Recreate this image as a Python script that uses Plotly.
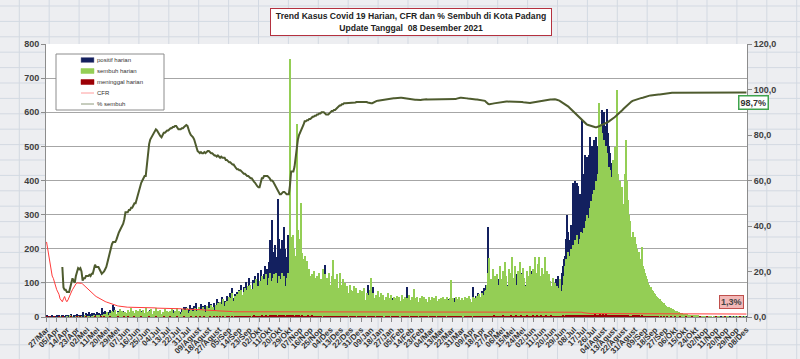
import pandas as pd
import plotly.graph_objects as go

# ---------------- data ----------------
dates = pd.date_range("2020-03-27", "2021-12-08", freq="D")

tick_labels = ["27/Mar","05/Apr","14/Apr","23/Apr","02/Mei","11/Mei","20/Mei","29/Mei","07/Jun","16/Jun",
               "25/Jun","04/Jul","13/Jul","22/Jul","31/Jul","09/Agust","18/Agust","27/Agust","05/Sep","14/Sep",
               "23/Sep","02/Okt","11/Okt","20/Okt","29/Okt","07/Nop","16/Nop","25/Nop","04/Des","13/Des",
               "22/Des","31/Des","09/Jan","18/Jan","27/Jan","05/Feb","14/Feb","23/Feb","04/Mar","13/Mar",
               "22/Mar","31/Mar","09/Apr","18/Apr","27/Apr","06/Mei","15/Mei","24/Mei","02/Jun","11/Jun",
               "20/Jun","29/Jun","08/Jul","17/Jul","26/Jul","04/Agust","13/Agust","22/Agust","31/Agust","09/Sep",
               "18/Sep","27/Sep","06/Okt","15/Okt","24/Okt","02/Nop","11/Nop","20/Nop","29/Nop","08/Des"]

positif_harian = [
    3,0,2,1,0,4,2,0,1,3, 2,5,1,0,6,3,2,4,1,7, 5,3,8,2,4,6,3,10,5,2, 7,4,15,6,3,12,9,5,14,8,
    11,6,13,4,9,16,7,12,10,26, 14,9,18,12,6,15,20,11,8,35, 30,13,9,17,6,11,14,5,19,8, 10,4,12,7,15,9,3,11,6,13,
    8,14,5,10,18,7,12,4,9,16, 6,11,20,15,8,13,5,10,17,7, 12,9,4,14,8,19,11,6,15,10, 7,13,21,9,16,5,12,18,8,14,
    24,11,30,17,28,13,22,35,19,26, 15,32,21,41,18,29,25,38,22,33, 27,35,20,31,44,26,37,30,24,40, 33,52,28,45,36,41,58,34,47,39,
    62,44,55,70,48,85,57,66,52,74, 61,80,69,95,58,88,72,104,83,66, 114,90,78,108,97,120,85,101,130,93, 138,110,96,125,150,118,140,160,225,170,
    284,190,150,210,175,345,230,200,180,225, 160,265,200,175,240,150,265,210,130,180, 150,120,170,110,140,95,130,105,85,120, 90,75,110,80,95,70,100,85,65,108,
    90,75,60,95,70,115,80,152,100,65, 85,70,95,60,80,55,75,65,50,70, 60,45,75,55,40,65,50,45,60,40, 55,50,35,62,45,40,58,35,50,42,
    48,38,55,45,60,94,50,40,35,45, 89,40,50,35,45,30,55,40,35,50, 40,30,45,35,50,28,40,55,35,30, 45,38,30,52,40,35,48,30,42,36,
    88,35,45,30,50,40,35,55,38,45, 30,48,35,42,55,38,30,45,40,35, 50,42,36,55,40,32,48,38,45,52, 36,42,30,48,40,35,52,38,45,60,
    42,35,55,40,48,38,45,32,50,40, 44,38,55,42,48,36,52,45,89,40, 50,62,45,70,55,48,75,60,85,70, 95,80,265,110,90,75,105,85,120,95,
    80,110,130,90,75,100,85,115,70,95, 90,120,85,140,4,95,95,125,110,90, 147,130,105,80,115,95,70,100,85,120, 95,135,110,90,125,100,80,140,105,90,
    120,100,85,130,95,75,110,90,80,105, 85,95,110,90,120,108,100,130,150,170, 180,230,299,250,225,270,240,392,380,400, 370,392,385,360,330,577,350,420,475,460,
    470,475,528,440,500,410,520,480,528,500, 540,560,520,607,580,600,560,610,540,500, 480,430,450,400,380,420,350,330,360,300, 280,300,260,240,250,220,200,210,180,170,
    160,150,140,130,125,115,110,100,95,90, 85,80,72,70,65,60,58,52,50,45, 42,40,55,35,32,30,28,25,22,20, 18,16,15,13,12,10,9,8,7,6,
    5,5,4,4,3,3,3,2,2,2, 2,1,1,2,1,0,1,1,2,0, 1,1,0,1,2,1,0,1,1,0, 1,0,1,1,0,2,1,0,1,1,
    0,1,1,0,1,0,2,1,0,1, 1,0,1,0,1,1,0,1,0,1, 0,1]

sembuh_harian = [
    0,0,0,0,0,0,0,0,0,0, 0,0,1,0,0,2,0,0,1,0, 0,3,0,1,0,0,2,0,0,1, 0,2,0,0,3,0,1,0,2,0,
    1,0,4,0,2,5,0,3,1,6, 4,8,2,10,15,6,12,8,18,11, 14,20,9,16,12,22,10,18,14,9, 16,12,20,8,15,25,11,17,13,21,
    10,18,14,24,9,16,20,12,26,15, 11,19,14,22,8,17,13,25,10,18, 15,21,9,16,12,24,11,19,14,8, 17,22,13,10,19,15,26,12,18,9,
    16,23,11,20,14,27,12,18,22,15, 19,13,25,17,21,28,15,22,18,30, 24,16,32,20,27,18,35,23,29,21, 34,26,40,30,45,28,38,52,33,44,
    48,36,60,42,55,70,46,62,50,66, 58,75,52,80,64,72,85,60,78,90, 70,95,82,65,100,88,110,76,92,105, 85,120,98,110,80,125,95,115,130,105,
    90,115,125,85,130,100,120,95,110,128, 100,120,90,115,130,110,755,235,230,240, 200,180,567,255,190,230,333,187,170,180, 150,165,130,140,120,110,125,135,100,115,
    120,108,130,95,110,140,100,125,90,115, 105,130,95,120,167,100,110,90,125,85, 128,95,80,110,75,100,85,90,70,95, 80,65,75,90,60,85,70,55,80,65,
    75,60,85,50,70,65,55,78,114,60, 70,55,65,50,75,45,60,70,55,65, 50,60,45,70,55,40,65,50,60,45, 55,62,40,58,48,65,52,45,60,50,
    55,45,65,50,58,42,83,55,48,60, 45,55,50,62,40,58,48,52,45,60, 50,42,58,46,55,40,62,48,52,45, 55,48,60,44,52,58,42,50,56,108,
    48,55,45,60,52,42,58,50,46,55, 50,60,45,56,48,62,52,45,58,50, 55,48,62,52,66,58,70,55,65,75, 80,95,130,172,110,90,140,100,120,85,
    125,95,150,110,80,135,100,160,120,90, 140,105,130,177,0,115,150,95,135,110, 160,125,100,145,115,90,135,120,105,150, 125,95,140,177,110,130,155,177,120,100,
    145,125,177,110,135,95,125,105,90,115, 80,100,70,90,65,85,110,75,95,120, 150,170,160,190,180,200,175,210,195,225, 200,240,215,230,250,220,245,260,250,280,
    300,290,320,340,330,360,372,350,400,420, 626,560,567,540,520,518,500,480,421,440, 430,410,205,460,499,480,665,420,380,400, 352,380,330,420,518,400,343,300,280,235,
    250,230,235,215,200,187,190,170,206,150, 140,128,120,110,100,95,88,80,75,70, 66,62,60,56,52,48,45,42,40,36, 33,30,28,26,25,24,22,20,18,17,
    16,14,13,12,11,10,10,9,8,7, 6,6,5,5,4,4,3,3,3,2, 2,2,1,2,1,1,1,0,1,1, 1,0,1,0,1,1,0,1,0,0,
    1,0,0,1,0,1,0,0,1,0, 0,1,0,0,1,0,0,1,0,0, 1,0]

meninggal_harian = [
    1,0,0,1,0,0,0,1,0,0, 0,1,0,0,0,1,0,0,0,0, 0,0,1,0,0,0,0,1,0,0, 1,0,0,0,0,1,0,0,0,0,
    0,0,0,1,0,0,0,0,1,0, 0,1,0,0,0,0,1,0,0,0, 0,0,0,1,0,0,0,0,0,1, 0,0,1,0,0,0,0,0,1,0,
    0,0,0,0,1,0,0,0,0,0, 0,1,0,0,0,0,0,1,0,0, 0,0,0,0,1,0,0,0,0,0, 1,0,0,0,0,0,1,0,0,0,
    0,0,1,0,0,0,0,0,1,0, 0,0,0,1,0,0,1,0,0,0, 1,0,0,0,0,1,0,0,0,1, 0,1,0,0,1,0,0,1,0,0,
    1,0,1,0,0,2,0,1,0,1, 0,1,0,2,1,0,1,0,2,1, 2,1,0,1,3,1,2,0,1,2, 1,3,2,1,2,4,1,2,3,2,
    4,3,2,5,3,2,4,3,2,3, 3,4,2,3,5,2,3,4,2,3, 2,3,4,2,3,2,1,3,2,2, 2,1,3,2,1,2,3,1,2,1,
    1,2,1,2,1,0,2,1,1,2, 1,1,2,0,1,1,2,1,0,1, 1,0,1,1,2,0,1,1,0,1, 0,1,1,0,1,0,2,1,0,1,
    1,0,1,1,0,1,0,1,1,0, 1,1,0,1,0,1,1,0,1,0, 0,1,1,0,1,0,0,1,1,0, 1,0,1,0,0,1,1,0,1,0,
    1,1,0,1,0,1,0,1,0,1, 0,1,0,1,1,0,1,0,1,0, 1,0,1,0,1,1,0,1,0,1, 0,1,1,0,1,0,1,0,1,1,
    1,0,1,1,0,1,0,1,1,0, 0,1,0,1,1,0,1,1,0,1, 1,1,0,1,2,1,1,2,1,1, 2,1,2,1,1,2,1,3,2,1,
    2,1,2,2,1,3,2,1,2,2, 1,2,3,2,1,2,2,3,1,2, 2,3,1,2,2,1,3,2,2,1, 2,2,3,1,2,3,2,2,1,3,
    2,1,2,3,2,1,2,2,3,2, 1,2,1,1,2,2,1,2,3,2, 2,3,2,3,3,4,3,4,3,5, 4,5,4,6,5,6,5,6,7,5,
    6,7,5,6,7,6,7,8,6,7, 7,8,6,7,8,7,8,6,7,6, 6,5,6,5,5,4,5,4,4,3, 4,3,3,3,3,2,3,2,2,2,
    4,5,4,3,4,3,3,2,3,2, 2,2,1,2,1,2,1,1,1,0, 1,1,0,1,0,1,0,0,1,0, 0,1,0,0,1,0,0,0,1,0,
    0,0,1,0,0,0,0,1,0,0, 0,0,0,1,0,0,0,0,0,0, 1,0,0,0,0,0,1,0,0,0, 0,0,0,0,1,0,0,0,0,0,
    0,0,1,0,0,0,0,0,0,0, 0,0,0,0,0,1,0,0,0,0, 0,0]

cfr = [
    33,30,27,24,20,18,17,15,14,12, 11,10,8,7,6.7,8,9,7.5,6.7,7.5, 9,10,11,12,13,14,14.5,15,15,15, 15,14.8,14.5,14,13.5,13,12.5,12,11.5,11,
    10.5,10,9.7,9.4,9,8.7,8.4,8,7.7,7.4, 7.2,7,6.8,6.6,6.4,6.2,6,5.8,5.6,5.4, 5.2,5.1,5,4.9,4.8,4.7,4.6,4.5,4.5,4.4, 4.4,4.3,4.3,4.3,4.3,4.3,4.3,4.3,4.3,4.3,
    4.3,4.3,4.3,4.2,4.2,4.2,4.2,4.1,4.1,4.1, 4.1,4.1,4,4,4,4,4,4,3.9,3.9, 3.9,3.9,3.9,3.9,3.8,3.8,3.8,3.8,3.8,3.8, 3.7,3.7,3.7,3.7,3.7,3.6,3.6,3.6,3.6,3.6,
    3.6,3.5,3.5,3.5,3.5,3.5,3.4,3.4,3.4,3.4, 3.4,3.3,3.3,3.3,3.3,3.2,3.2,3.2,3.2,3.1, 3.1,3.1,3.0,3.0,3.0,2.9,2.9,2.9,2.9,2.8, 2.8,2.8,2.7,2.7,2.7,2.6,2.6,2.6,2.5,2.5,
    2.5,2.5,2.4,2.4,2.4,2.4,2.3,2.3,2.3,2.3, 2.3,2.2,2.2,2.2,2.2,2.2,2.2,2.1,2.1,2.1, 2.1,2.1,2.1,2.1,2.1,2.1,2.1,2.1,2.0,2.0, 2.0,2.1,2.1,2.1,2.1,2.1,2.1,2.1,2.1,2.1,
    2.2,2.2,2.2,2.1,2.1,2.1,2.1,2.1,2.1,2.1, 2.1,2.1,2.1,2.1,2.1,2.1,2.0,2.0,2.0,2.0, 2.0,2.0,2.1,2.1,2.1,2.1,2.1,2.1,2.1,2.1, 2.1,2.1,2.1,2.1,2.1,2.1,2.1,2.1,2.1,2.1,
    2.1,2.1,2.1,2.1,2.1,2.1,2.1,2.1,2.1,2.1, 2.1,2.1,2.1,2.1,2.1,2.1,2.1,2.1,2.1,2.1, 2.1,2.1,2.1,2.1,2.1,2.1,2.1,2.1,2.1,2.1, 2.1,2.1,2.1,2.1,2.1,2.1,2.1,2.1,2.1,2.1,
    2.1,2.1,2.1,2.1,2.1,2.1,2.1,2.1,2.1,2.1, 2.1,2.1,2.1,2.1,2.1,2.1,2.1,2.1,2.1,2.1, 2.1,2.1,2.1,2.1,2.1,2.1,2.1,2.1,2.1,2.1, 2.1,2.1,2.1,2.1,2.1,2.1,2.1,2.1,2.1,2.1,
    2.1,2.1,2.1,2.1,2.1,2.1,2.1,2.1,2.1,2.1, 2.1,2.1,2.1,2.1,2.1,2.1,2.1,2.1,2.1,2.1, 2.1,2.1,2.1,2.1,2.1,2.1,2.1,2.1,2.1,2.1, 2.1,2.1,2.1,2.1,2.1,2.1,2.1,2.1,2.1,2.1,
    2.1,2.1,2.1,2.1,2.1,2.1,2.1,2.1,2.1,2.1, 2.1,2.1,2.1,2.1,2.1,2.1,2.1,2.1,2.1,2.1, 2.1,2.1,2.1,2.1,2.1,2.1,2.1,2.1,2.1,2.1, 2.1,2.1,2.1,2.1,2.1,2.1,2.1,2.1,2.1,2.1,
    2.1,2.1,2.1,2.1,2.1,2.1,2.1,2.1,2.1,2.1, 2.1,2.1,2.1,2.1,2.1,2.1,2.1,2.1,2.1,2.1, 2.1,2.1,2.1,2.1,2.1,2.1,2.1,2.1,2.1,2.1, 2.1,2.1,2.1,2.1,2.1,2.1,2.1,2.1,2.1,2.1,
    2.1,2.1,2.1,2.1,2.1,2.1,2.1,2.1,2.1,2.1, 2.1,2.1,2.1,2.1,2.1,2.1,2.1,2.1,2.1,2.1, 2.1,2.1,2.1,2.1,2.1,2.1,2.1,2.1,2.1,2.1, 2.1,2.1,2.1,2.1,2.1,2.1,1.9,1.8,1.7,1.6,
    1.6,1.5,1.5,1.5,1.5,1.5,1.5,1.5,1.5,1.5, 1.5,1.5,1.5,1.5,1.5,1.5,1.5,1.4,1.4,1.4, 1.4,1.4,1.4,1.4,1.4,1.4,1.4,1.4,1.4,1.4, 1.4,1.4,1.4,1.4,1.4,1.4,1.4,1.4,1.4,1.4,
    1.4,1.4,1.4,1.4,1.4,1.4,1.4,1.4,1.4,1.4, 1.3,1.3,1.3,1.3,1.3,1.3,1.3,1.3,1.3,1.3, 1.3,1.3,1.3,1.3,1.3,1.3,1.3,1.3,1.3,1.3, 1.3,1.3,1.3,1.3,1.3,1.3,1.3,1.3,1.3,1.3,
    1.3,1.3,1.3,1.3,1.3,1.3,1.3,1.3,1.3,1.3, 1.3,1.3,1.3,1.3,1.3,1.3,1.3,1.3,1.3,1.3, 1.3,1.3,1.3,1.3,1.3,1.3,1.3,1.3,1.3,1.3, 1.3,1.3,1.3,1.3,1.3,1.3,1.3,1.3,1.3,1.3,
    1.3,1.3,1.3,1.3,1.3,1.3,1.3,1.3,1.3,1.3, 1.3,1.3,1.3,1.3,1.3,1.3,1.3,1.3,1.3,1.3, 1.3,1.3]

pct_sembuh = [
    None,None,None,None,None,None,None,None,None,None, None,None,None,None,22,13,12,12,11,11,
    11,13,15,17,16,15,18,20,21.5,21, 21.5,20,16,17,17,18,18,18,18.5,18, 19,19,21,23,22,22,22,21,20,19, 19.5,20,21,22,24,26,28,31,32,33,
    33,33,34,36,37,38,39,40,41,43, 46,46,46,47,47,48,48,49,50,50, 52,53,56,58,59,60,61,62,62,68, 73,76,78,79,80,81,82,82.5,82,81,
    80,79.5,79,80,81,81,81.5,82,82,82.5, 83,83,83.5,83.5,84,84,83,82.5,82.5,82.5, 83,83,83.5,84,84.4,84,82,81,80,79.5, 79,78,76,74,73,72.5,72,72.5,72,72,
    72.5,72,72.5,73,73,72.5,72,72,71.5,71, 71,70.5,71,70.5,70,70.5,70,70,70,69, 69,68.5,68,68,67.5,67,67,66,65.5,65, 65,64.5,64.5,64,63.5,63,63,62.5,62,62,
    61.5,61,61,60,59.5,59,58,57.5,57,57, 59,61,61,62,62,62,62,61.5,61,60, 60,59.5,58.5,57.5,56.5,56,55,54,54,54.5, 55,55,54.5,54,54,54,58,64,64,64,
    66,70,75,78,80,81,82,83,84.5,86, 86,86.5,86.5,87,87,87.5,88,88,88.5,88.5, 89,89,89.5,89.5,90,90,90,89.5,89,89, 89,89.5,90,90.5,90.5,91,91,91.5,92,92.5,
    93,93,93.5,93.5,94,94,94,94,94,94, 94.2,94,94,94,94.3,94.5,94.5,94.5,94.5,94.6, 94.7,94.7,94.7,94.6,94.5,94.3,94.1,94,94,94, 94.3,94.5,94.8,95,95.1,95.2,95.3,95.4,95.4,95.5,
    95.6,95.7,95.8,95.9,96,96,96,96.1,96.2,96.2, 96.3,96.3,96.4,96.4,96.4,96.4,96.3,96.2,96.1,96, 96,95.9,95.8,95.7,95.7,95.6,95.6,95.5,95.5,95.4, 95.4,95.4,95.4,95.5,95.6,95.7,95.7,95.7,95.6,95.6,
    95.7,95.7,95.6,95.6,95.7,95.7,95.7,95.7,95.7,95.7, 95.7,95.6,95.7,95.7,95.6,95.5,95.6,95.6,95.6,95.7, 95.6,95.6,95.6,95.8,96,96.2,96.3,96.4,96.4,96.4, 96.4,96.3,96.2,96.1,96,95.9,95.9,95.8,95.8,95.7,
    95.7,95.6,95.6,95.5,95.5,95.4,95.3,95.2,95.1,95, 94.5,94,93.6,93.5,93.5,93.6,93.8,93.9,94,94, 94,94.1,94.2,94.3,94.4,94.5,94.6,94.7,94.7,94.7, 94.7,94.7,94.7,94.8,94.8,94.8,94.7,94.7,94.7,94.7,
    94.7,94.6,94.5,94.4,94.3,94.2,94.1,94,94,94.1, 94.2,94.3,94.4,94.5,94.6,94.7,94.7,94.8,94.9,95, 95.1,95.2,95.3,95.3,95.4,95.4,95.5,95.6,95.6,95.7, 95.7,95.7,95.6,95.5,95.3,95.1,94.8,94.5,94.2,93.8,
    93.5,93.3,93,92.5,92,91.5,91,90.5,90,89.5, 89,88.5,88,87.5,87,86.5,86,85.6,85.2,84.8, 84.5,84.3,84.2,84,83.8,83.6,83.5,83.4,83.4,83.5, 83.7,84,84.2,84.4,84.6,84.8,85,85.3,85.6,86,
    86.3,86.6,87,87.4,87.8,88.2,88.6,89,89.5,90, 90.5,91,91.5,92,92.5,93,93.5,94,94.3,94.7, 95,95.2,95.4,95.6,95.8,96,96.1,96.2,96.3,96.4, 96.6,96.8,97,97.1,97.2,97.3,97.4,97.5,97.6,97.6,
    97.7,97.7,97.8,97.8,97.8,97.9,97.9,98,98,98.1, 98.2,98.3,98.4,98.5,98.6,98.6,98.6,98.6,98.7,98.7,
    98.7,98.7,98.7,98.7,98.7,98.7,98.7,98.7,98.7,98.7, 98.7,98.7,98.7,98.7,98.7,98.7,98.7,98.7,98.7,98.7,
    98.7,98.7,98.7,98.7,98.7,98.7,98.7,98.7,98.7,98.7, 98.7,98.7,98.7,98.7,98.7,98.7,98.7,98.7,98.7,98.7,
    98.7,98.7,98.7,98.7,98.7,98.7,98.7,98.7,98.7,98.7, 98.7,98.7,98.7,98.7,98.7,98.7,98.7,98.7,98.7,98.7,
    98.7,98.7]

right_tick_vals = [0, 20, 40, 60, 80, 100, 120]
right_tick_text = ["0,0", "20,0", "40,0", "60,0", "80,0", "100,0", "120,0"]

n = len(dates)
for nm, arr in (("positif", positif_harian), ("sembuh", sembuh_harian), ("meninggal", meninggal_harian),
                ("cfr", cfr), ("pct", pct_sembuh)):
    assert len(arr) == n, (nm, len(arr))

# ---------------- styling ----------------
W, H = 800, 359
L, R, T, B = 46, 747, 44, 317
def px(x): return (x - L) / (R - L)
def py(y): return (B - y) / (B - T)

NAVY = "#13205F"
GREEN = "#94CE55"
DRED = "#9C0006"
CFR_RED = "#FF3B3B"
OLIVE = "#4E5B2E"
FONT = "Liberation Sans, Arial, sans-serif"

fig = go.Figure()
fig.add_trace(go.Bar(x=dates, y=positif_harian, name="positif harian", marker=dict(color=NAVY, line=dict(width=0))))
fig.add_trace(go.Bar(x=dates, y=sembuh_harian, name="sembuh harian", marker=dict(color=GREEN, line=dict(width=0))))
fig.add_trace(go.Bar(x=dates, y=meninggal_harian, name="meninggal harian", marker=dict(color=DRED, line=dict(width=0))))
fig.add_trace(go.Scatter(x=dates, y=cfr, name="CFR", yaxis="y2", mode="lines",
                         line=dict(color=CFR_RED, width=1)))
fig.add_trace(go.Scatter(x=dates, y=pct_sembuh, name="% sembuh", yaxis="y2", mode="lines",
                         line=dict(color=OLIVE, width=2), connectgaps=False))

shapes = []
# spreadsheet background grid
yy = 6.0
while yy < H:
    shapes.append(dict(type="line", xref="paper", yref="paper", x0=px(0), x1=px(W), y0=py(yy), y1=py(yy),
                       line=dict(color="#D3D9E2", width=1), layer="below"))
    yy += 15.4
xx = 19.3
while xx < W:
    shapes.append(dict(type="line", xref="paper", yref="paper", x0=px(xx), x1=px(xx), y0=py(0), y1=py(H),
                       line=dict(color="#D3D9E2", width=1), layer="below"))
    xx += 29.9
# white plot area
shapes.append(dict(type="rect", xref="paper", yref="paper", x0=0, x1=1, y0=0, y1=1,
                   fillcolor="white", line=dict(width=0), layer="below"))

# custom legend
shapes.append(dict(type="rect", xref="paper", yref="paper", x0=px(56), x1=px(164), y0=py(110), y1=py(54),
                   fillcolor="white", line=dict(color="#8C8C8C", width=1), layer="above"))
rows = [60, 71, 82, 93, 104]
legend_items = [("positif harian", "rect", NAVY), ("sembuh harian", "rect", GREEN),
                ("meninggal harian", "rect", DRED), ("CFR", "line", "#FF9C9C"), ("% sembuh", "line", "#8E9A7C")]
annotations = []
for (label, kind, col), ry in zip(legend_items, rows):
    if kind == "rect":
        shapes.append(dict(type="rect", xref="paper", yref="paper", x0=px(81), x1=px(94), y0=py(ry + 2.5), y1=py(ry - 2.5),
                           fillcolor=col, line=dict(color="#7F7FA0" if col == NAVY else col, width=0.5), layer="above"))
    else:
        shapes.append(dict(type="line", xref="paper", yref="paper", x0=px(81), x1=px(94), y0=py(ry), y1=py(ry),
                           line=dict(color=col, width=1), layer="above"))
    annotations.append(dict(text=label, xref="paper", yref="paper", x=px(95), y=py(ry), xanchor="left",
                            yanchor="middle", showarrow=False, font=dict(family=FONT, size=6, color="#333333")))

# title box
annotations.append(dict(
    text="<b>Trend Kasus Covid 19 Harian, CFR dan % Sembuh di Kota Padang</b><br><b>Update Tanggal  08 Desember 2021</b>",
    xref="paper", yref="paper", x=px(411), y=py(22), xanchor="center", yanchor="middle", showarrow=False,
    font=dict(family=FONT, size=8.6, color="#222222"), align="center",
    bgcolor="white", bordercolor="#B4313F", borderwidth=1, borderpad=1, width=278, height=24))

# end labels
annotations.append(dict(text="<b>" + f"{pct_sembuh[-1]:.1f}%".replace(".", ",") + "</b>",
                        x=dates[-1], y=pct_sembuh[-1], xref="x", yref="y2", showarrow=False,
                        xshift=7, yshift=-10, font=dict(family=FONT, size=9, color="#333333"),
                        bgcolor="white", bordercolor="#3FA34D", borderwidth=1.5, borderpad=1))
annotations.append(dict(text="<b>" + f"{cfr[-1]:.1f}%".replace(".", ",") + "</b>",
                        x=dates[-1], y=cfr[-1], xref="x", yref="y2", showarrow=False,
                        xshift=-15, yshift=12, font=dict(family=FONT, size=9, color="#444444"),
                        bgcolor="#F2B8B7", bordercolor="#C0504D", borderwidth=1, borderpad=1))

half_day = pd.Timedelta(hours=12)
fig.update_layout(
    width=W, height=H,
    margin=dict(l=L, r=W - R, t=T, b=H - B, pad=0),
    paper_bgcolor="#EDEEF1", plot_bgcolor="rgba(0,0,0,0)",
    barmode="overlay", bargap=0,
    showlegend=False,
    shapes=shapes, annotations=annotations,
    xaxis=dict(type="date", range=[dates[0] - half_day, dates[-1] + half_day],
               tickmode="array", tickvals=list(dates[::9]), ticktext=tick_labels,
               tickangle=-45, ticks="outside", ticklen=4, tickcolor="#8C8C8C",
               showline=True, linecolor="#8C8C8C", linewidth=1, showgrid=False, automargin=False,
               tickfont=dict(family=FONT, size=8, color="#333333", weight="bold")),
    yaxis=dict(range=[0, 800], dtick=100, showgrid=True, gridcolor="#A6A6A6", gridwidth=1,
               showline=True, linecolor="#8C8C8C", ticks="outside", ticklen=4, tickcolor="#8C8C8C",
               zeroline=False, automargin=False, tickfont=dict(family=FONT, size=9, color="#404040", weight="bold")),
    yaxis2=dict(range=[0, 120], overlaying="y", side="right", tickmode="array",
                tickvals=right_tick_vals, ticktext=right_tick_text, showgrid=False, zeroline=False,
                showline=True, linecolor="#8C8C8C", ticks="outside", ticklen=4, tickcolor="#8C8C8C",
                automargin=False, tickfont=dict(family=FONT, size=9, color="#404040", weight="bold")),
)

fig.write_html("out.html", config={"displayModeBar": False},
               post_script="document.body.style.margin='0px';document.body.style.overflow='hidden';")
